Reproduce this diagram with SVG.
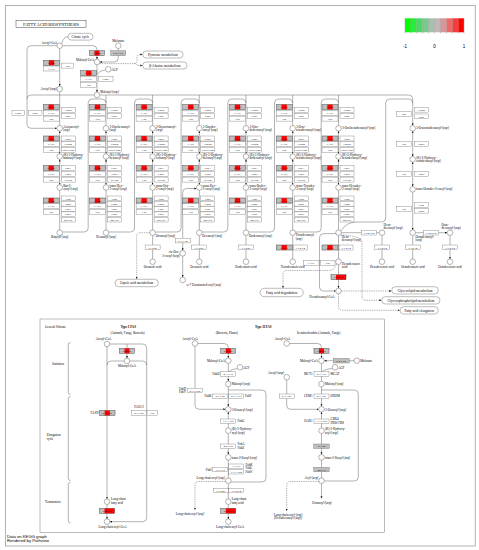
<svg xmlns="http://www.w3.org/2000/svg" width="479" height="550" viewBox="0 0 479 550">
<style>
.l{fill:none;stroke:#555;stroke-width:.45}
.d{fill:none;stroke:#555;stroke-width:.45;stroke-dasharray:1.4 .9}
.c{fill:#fff;stroke:#444;stroke-width:.4}
.bw{fill:#fff;stroke:#666;stroke-width:.35}
.bg{fill:#bebebe;stroke:#666;stroke-width:.35}
.br{fill:#ff0000}
.bo{fill:none;stroke:#666;stroke-width:.35}
.pl{fill:#fff;stroke:#555;stroke-width:.4}
text{font-family:"Liberation Serif","Times New Roman",serif;fill:#000}
.t{font-size:3.2px}
.b{font-size:2.9px;text-anchor:middle}
.m{text-anchor:middle}
.e{text-anchor:end}
.p{font-size:3.5px;text-anchor:middle}
.s{font-family:"Liberation Sans",Arial,sans-serif}
</style>
<defs>
<marker id="ar" viewBox="0 0 6 6" refX="6" refY="3" markerWidth="2.2" markerHeight="2.2" markerUnits="userSpaceOnUse" orient="auto-start-reverse"><path d="M0 .4L6 3L0 5.6z" fill="#111"/></marker>
<g id="tF"><rect class="bg" width="16" height="5"/><rect class="br" x="5.33" width="5.34" height="5"/><rect class="bo" width="16" height="5"/><text class="b" x="8" y="3.6">FASN</text></g>
<g id="t6412"><rect class="bg" width="15" height="5"/><rect class="br" x="5" width="5" height="5"/><rect class="bo" width="15" height="5"/><text class="b" x="7.5" y="3.6">6.4.1.2</text></g>
<g id="t6213"><rect class="bg" width="15" height="5"/><rect class="br" x="5" width="10" height="5"/><rect class="bo" width="15" height="5"/><text class="b" x="7.5" y="3.6">6.2.1.3</text></g>
<g id="ls"><use href="#tF"/><rect class="bw" y="5.8" width="16" height="5"/><text class="b" x="8" y="9.4">FAS1</text><rect class="bw" y="11.6" width="16" height="5"/><text class="b" x="8" y="15.2">Fas</text></g>
<g id="g1"><use href="#ls" x="-16.5"/><rect class="bw" x="1.5" y="3" width="14" height="5"/><text class="b" x="8.5" y="6.6">FabB</text><rect class="bw" x="1.5" y="8.8" width="14" height="5"/><text class="b" x="8.5" y="12.4">FabF</text></g>
<g id="g2"><use href="#ls" x="-16.5"/><rect class="bw" x="1.5" width="14" height="5"/><text class="b" x="8.5" y="3.6">FabG</text><rect class="bw" x="1.5" y="5.8" width="14" height="5"/><text class="b" x="8.5" y="9.4">CBR4</text><rect class="bw" x="1.5" y="11.6" width="14" height="5"/><text class="b" x="8.5" y="15.2">HSD17B8</text></g>
<g id="g3"><use href="#ls" x="-16.5"/><rect class="bw" x="1.5" width="14" height="5"/><text class="b" x="8.5" y="3.6">FabA</text><rect class="bw" x="1.5" y="5.8" width="14" height="5"/><text class="b" x="8.5" y="9.4">FabZ</text><rect class="bw" x="1.5" y="11.6" width="14" height="5"/><text class="b" x="8.5" y="15.2">HTD2</text></g>
<g id="g4"><use href="#ls" x="-16.5" y="2"/><rect class="bw" x="1.5" width="14" height="4.8"/><text class="b" x="8.5" y="3.5">FabI</text><rect class="bw" x="1.5" y="5.3" width="14" height="4.8"/><text class="b" x="8.5" y="8.8">FabK</text><rect class="bw" x="1.5" y="10.6" width="14" height="4.8"/><text class="b" x="8.5" y="14.1">FabL</text><rect class="bw" x="1.5" y="15.9" width="14" height="4.8"/><text class="b" x="8.5" y="19.4">FabV</text><rect class="bw" x="1.5" y="21.2" width="14" height="4.8"/><text class="b" x="8.5" y="24.7">MECR</text></g>
</defs>
<rect width="479" height="550" fill="#fff"/>
<rect x="5.5" y="5.5" width="469.8" height="540.5" fill="none" stroke="#aaa" stroke-width=".9"/>
<rect x="40" y="319" width="344.3" height="213.7" fill="none" stroke="#777" stroke-width=".5"/>

<g id="connectors">
<path class="l" d="M56.9 45.7H31Q27 45.7 27 49.7V124.3Q27 128.3 31 128.3H56.9" marker-end="url(#ar)"/>
<path class="l" d="M62.5 45.7H93Q97 45.7 97 49.7V59.2" marker-end="url(#ar)"/>
<path class="l" d="M61.6 43.6Q63.5 36.7 68 36.7"/>
<path class="l" d="M59.7 48.5V86.2" marker-end="url(#ar)"/>
<path class="l" d="M118.3 48.5V58Q118.3 62 114.3 62H99.8" marker-end="url(#ar)"/>
<path class="l" d="M97 64.8V92.2" marker-end="url(#ar)"/>
<path class="l" d="M105.5 70Q99 71 97.2 74.5"/>
<path class="d" d="M99.6 63.6H134Q137 63.6 137 60.5V57.5Q137 54.5 140 54.5H142.5" marker-end="url(#ar)"/>
<path class="d" d="M134 63.6Q137 63.6 137 65.5H142.5" marker-end="url(#ar)"/>
<path class="l" d="M94.2 95H31Q27 95 27 99"/>
<path class="l" d="M99.8 95H408.7Q412.7 95 412.7 99"/>
<path class="l" d="M59.7 91.8V125.5M106 95V125.5M152.6 95V125.5M199.3 95V125.5M246 95V125.5M292.7 95V125.5M338.5 95V125.5M412.7 99V125.5" marker-end="url(#ar)"/>
<path class="l" d="M59.7 131.1V153.7" marker-start="url(#ar)" marker-end="url(#ar)"/>
<path class="l" d="M106 131.1V153.7" marker-start="url(#ar)" marker-end="url(#ar)"/>
<path class="l" d="M152.6 131.1V153.7" marker-start="url(#ar)" marker-end="url(#ar)"/>
<path class="l" d="M199.3 131.1V153.7" marker-start="url(#ar)" marker-end="url(#ar)"/>
<path class="l" d="M246 131.1V153.7" marker-start="url(#ar)" marker-end="url(#ar)"/>
<path class="l" d="M292.7 131.1V153.7" marker-start="url(#ar)" marker-end="url(#ar)"/>
<path class="l" d="M338.5 131.1V153.7" marker-start="url(#ar)" marker-end="url(#ar)"/>
<path class="l" d="M412.7 131.1V156.5" marker-start="url(#ar)" marker-end="url(#ar)"/>
<path class="l" d="M59.7 159.3V184.7" marker-start="url(#ar)" marker-end="url(#ar)"/>
<path class="l" d="M106 159.3V184.7" marker-start="url(#ar)" marker-end="url(#ar)"/>
<path class="l" d="M152.6 159.3V184.7" marker-start="url(#ar)" marker-end="url(#ar)"/>
<path class="l" d="M199.3 159.3V184.7" marker-start="url(#ar)" marker-end="url(#ar)"/>
<path class="l" d="M246 159.3V184.7" marker-start="url(#ar)" marker-end="url(#ar)"/>
<path class="l" d="M292.7 159.3V184.7" marker-start="url(#ar)" marker-end="url(#ar)"/>
<path class="l" d="M338.5 159.3V184.7" marker-start="url(#ar)" marker-end="url(#ar)"/>
<path class="l" d="M412.7 162.1V186.5" marker-start="url(#ar)" marker-end="url(#ar)"/>
<path class="l" d="M59.7 190.3V229.9M106 190.3V229.9M152.6 190.3V229.9M199.3 190.3V229.9M246 190.3V229.9M292.7 190.3V229.9M338.5 190.3V229.9M412.7 192.1V229.9" marker-end="url(#ar)"/>
<path class="l" d="M62.5 232H84.2Q88.2 232 88.2 228V103Q88.2 99 92.2 99H102Q106 99 106 103"/>
<path class="l" d="M108.8 232H130.5Q134.5 232 134.5 228V103Q134.5 99 138.5 99H148.6Q152.6 99 152.6 103"/>
<path class="l" d="M155.4 232H177.1Q181.1 232 181.1 228V103Q181.1 99 185.1 99H195.3Q199.3 99 199.3 103"/>
<path class="l" d="M202.1 232H223.8Q227.8 232 227.8 228V103Q227.8 99 231.8 99H242Q246 99 246 103"/>
<path class="l" d="M248.8 232H270.5Q274.5 232 274.5 228V103Q274.5 99 278.5 99H288.7Q292.7 99 292.7 103"/>
<path class="l" d="M295.5 232H317.2Q321.2 232 321.2 228V103Q321.2 99 325.2 99H334.5Q338.5 99 338.5 103"/>
<path class="l" d="M341 231Q346 222 357 222H381.7Q385.7 222 385.7 218V103Q385.7 99 389.7 99H408.7Q412.7 99 412.7 103"/>
<path class="l" d="M152.6 235.5V258.9M199.3 235.5V258.9M246 235.5V258.9M292.7 235.5V258.9M338.5 235.5V258.9M382 235.5V258.9M412.7 235.5V258.9M450 235.5V258.9" marker-end="url(#ar)"/>
<path class="l" d="M341.3 232.7H379.2M415.5 232.7H447.2" marker-end="url(#ar)"/>
<path class="l" d="M196.5 188.5H186.7Q182.7 188.5 182.7 192.5V250.5" marker-start="url(#ar)" marker-end="url(#ar)"/>
<path class="l" d="M182.7 256.1V277.2" marker-end="url(#ar)"/>
<path class="l" d="M335.8 233.6H323.5Q319.5 233.6 319.5 237.6V287Q319.5 291 323.5 291H335.7" marker-end="url(#ar)"/>
<path class="l" d="M338.5 264.5V288.2" marker-end="url(#ar)"/>
<path class="d" d="M149.8 232.7H140.2Q136.7 232.7 136.7 236.2V279" marker-end="url(#ar)"/>
<path class="d" d="M336.5 264Q334 270.5 329 270.5H287Q283 270.5 283 274.5V288" marker-end="url(#ar)"/>
<path class="d" d="M341.3 291H391.4" marker-end="url(#ar)"/>
<path class="d" d="M338.5 293.8V306.3Q338.5 310.3 342.5 310.3H399.8" marker-end="url(#ar)"/>
<path class="d" d="M340.5 234.8Q362 236 362 242V296.3Q362 300.3 366 300.3H381.5" marker-end="url(#ar)"/>
<path class="l" d="M109.8 344H142.7Q146.7 344 146.7 348V517.7Q146.7 521.7 142.7 521.7H109.8" marker-end="url(#ar)"/>
<path class="l" d="M127 344V358.2" marker-end="url(#ar)"/>
<path class="l" d="M124.2 361H111Q107 361 107 365M129.8 361H142.7Q146.7 361 146.7 365"/>
<path class="l" d="M107 346.8V498.9" marker-end="url(#ar)"/>
<path class="l" d="M107 504.5V518.9" marker-end="url(#ar)"/>
<path class="l" d="M197.8 343.5H224.3Q228.3 343.5 228.3 347.5V357.9" marker-end="url(#ar)"/>
<path class="l" d="M195 346.3V405.3Q195 409.3 199 409.3H225.5" marker-end="url(#ar)"/>
<path class="l" d="M237.5 368.5Q231 369 228.5 372"/>
<path class="l" d="M228.3 363.5V381.2" marker-end="url(#ar)"/>
<path class="l" d="M228.3 386.8V406.5" marker-end="url(#ar)"/>
<path class="l" d="M230.8 482H262Q266 482 266 478V394Q266 390 262 390H228.3"/>
<path class="l" d="M228.3 412.1V427.9M228.3 433.5V454.5" marker-start="url(#ar)" marker-end="url(#ar)"/>
<path class="l" d="M228.3 460.1V477.9M228.3 483.5V498.9M228.3 504.5V518.9" marker-end="url(#ar)"/>
<path class="d" d="M225.5 481.5H199Q195 481.5 195 485.5V510" marker-end="url(#ar)"/>
<path class="l" d="M289.5 343.5H317.5Q321.5 343.5 321.5 347.5V357.9" marker-end="url(#ar)"/>
<path class="l" d="M354 360.7H324.3" marker-end="url(#ar)"/>
<path class="l" d="M332.5 368.5Q325 369 321.7 372"/>
<path class="l" d="M321.5 363.5V381.2M321.5 386.8V406.5" marker-end="url(#ar)"/>
<path class="l" d="M286.7 380.1V405.3Q286.7 409.3 290.7 409.3H318.7" marker-end="url(#ar)"/>
<path class="l" d="M321.5 412.1V427.9M321.5 433.5V454.5" marker-start="url(#ar)" marker-end="url(#ar)"/>
<path class="l" d="M321.5 460.1V477.9M321.5 483.5V498.5" marker-end="url(#ar)"/>
<path class="l" d="M324.3 481H354.3Q358.3 481 358.3 477V394Q358.3 390 354.3 390H321.5"/>
<path class="d" d="M318.7 481.5H290.7Q286.7 481.5 286.7 485.5V511" marker-end="url(#ar)"/>
</g>

<g id="nodes">
<g id="title"><rect x="16" y="20.7" width="70" height="6.6" fill="#fff" stroke="#333" stroke-width=".45"/><text x="51" y="25.6" class="m" font-size="4.3">FATTY ACID BIOSYNTHESIS</text></g>
<g id="legend">
<rect x="405" y="18.3" width="5.9" height="14" fill="#00ff00"/><rect x="410.9" y="18.3" width="5.9" height="14" fill="#26ec3b"/><rect x="416.8" y="18.3" width="5.9" height="14" fill="#4cd864"/><rect x="422.7" y="18.3" width="5.9" height="14" fill="#78cb8a"/><rect x="428.6" y="18.3" width="5.9" height="14" fill="#a6c2aa"/><rect x="434.5" y="18.3" width="5.9" height="14" fill="#c2b6b6"/><rect x="440.4" y="18.3" width="5.9" height="14" fill="#d89696"/><rect x="446.3" y="18.3" width="5.9" height="14" fill="#ee6a6a"/><rect x="452.2" y="18.3" width="5.9" height="14" fill="#f83a3a"/><rect x="458.1" y="18.3" width="5.9" height="14" fill="#ff0000"/>
<path d="M405 18.3V33.5M410.9 18.3V33.5M416.8 18.3V33.5M422.7 18.3V33.5M428.6 18.3V33.5M434.5 18.3V33.5M440.4 18.3V33.5M446.3 18.3V33.5M452.2 18.3V33.5M458.1 18.3V33.5M464 18.3V33.5" stroke="#999" stroke-width=".5"/>
<text class="s m" x="405" y="47.8" font-size="4.5">-1</text><text class="s m" x="434.5" y="47.8" font-size="4.5">0</text><text class="s m" x="464" y="47.8" font-size="4.5">1</text>
</g>

<g id="n_citrate"><rect class="pl" x="68" y="33.3" width="25" height="6.8" rx="3.4"/><text class="p" x="80.5" y="37.9">Citrate cycle</text></g>
<g id="n_pyruvate"><rect class="pl" x="142.7" y="51" width="40.3" height="7" rx="3.5"/><text class="p" x="162.8" y="55.7">Pyruvate metabolism</text></g>
<g id="n_balanine"><rect class="pl" x="142.7" y="62" width="44.3" height="7" rx="3.5"/><text class="p" x="164.8" y="66.7">β-Alanine metabolism</text></g>
<g id="n_acetylcoa"><circle class="c" cx="59.7" cy="45.7" r="2.8"/><text class="t e" x="57.2" y="43.8">Acetyl-CoA</text></g>
<g id="n_malonate"><circle class="c" cx="118.3" cy="45.7" r="2.8"/><text class="t m" x="118.3" y="41.8">Malonate</text></g>
<g id="n_malonylcoa"><circle class="c" cx="97" cy="62" r="2.8"/><text class="t e" x="94" y="60.8">Malonyl-CoA</text></g>
<g id="n_acp"><circle class="c" cx="108.3" cy="69.3" r="2.8"/><text class="t" x="111.5" y="70.5">ACP</text></g>
<g id="n_malonylacp"><circle class="c" cx="97" cy="95" r="2.8"/><text class="t" x="100.3" y="93.2">Malonyl-[acp]</text></g>
<g id="n_acetylacp"><circle class="c" cx="59.7" cy="89" r="2.8"/><text class="t e" x="56.7" y="89.8">Acetyl-[acp]</text></g>
<g id="e_6412"><use href="#t6412" x="89.5" y="50.7"/></g>
<g id="e_62176"><rect class="bg" x="110.8" y="50.7" width="15" height="5"/><text class="b" x="118.3" y="54.3">6.2.1.76</text></g>
<g id="e_acetyltrans"><use href="#tF" x="43.5" y="60.2"/><rect class="bw" x="43.5" y="66" width="16" height="5"/><text class="b" x="51.5" y="69.6">FAS1</text><rect class="bw" x="61.3" y="63.1" width="12.5" height="5"/><text class="b" x="67.55" y="66.7">Fas</text></g>
<g id="e_malonyltrans"><use href="#tF" x="80.7" y="70.7"/><rect class="bw" x="80.7" y="76.5" width="16" height="5"/><text class="b" x="88.7" y="80.1">FAS1</text><rect class="bw" x="80.7" y="82.3" width="16" height="5"/><text class="b" x="88.7" y="85.9">Fas</text><rect class="bw" x="98.5" y="76.5" width="14.5" height="5"/><text class="b" x="105.75" y="80.1">FabD</text></g>
<g id="e_fabh"><rect class="bw" x="12" y="110.7" width="12.5" height="4.8"/><text class="b" x="18.25" y="114.2">FabH</text><rect class="bw" x="28.5" y="110.7" width="13.5" height="4.8"/><text class="b" x="35.25" y="114.2">FabY</text></g>

<g id="col1"><use href="#g1" x="59.7" y="104.5"/><use href="#g2" x="59.7" y="136"/><use href="#g3" x="59.7" y="165.5"/><use href="#g4" x="59.7" y="196"/>
<g id="c1a"><circle class="c" cx="59.7" cy="128.3" r="2.8"/><text class="t" x="63.2" y="127.5">Acetoacetyl-<tspan x="63.2" dy="3.7">[acp]</tspan></text></g>
<g id="c1b"><circle class="c" cx="59.7" cy="156.5" r="2.8"/><text class="t" x="63.2" y="155.7">(R)-3-Hydroxy-<tspan x="63.2" dy="3.7">butanoyl-[acp]</tspan></text></g>
<g id="c1c"><circle class="c" cx="59.7" cy="187.5" r="2.8"/><text class="t" x="63.2" y="186.7">But-2-<tspan x="63.2" dy="3.7">enoyl-[acp]</tspan></text></g>
<g id="c1d"><circle class="c" cx="59.7" cy="232.7" r="2.8"/><text class="t m" x="59.7" y="238.3">Butyryl-[acp]</text></g></g>

<g id="col2"><use href="#g1" x="106" y="104.5"/><use href="#g2" x="106" y="136"/><use href="#g3" x="106" y="165.5"/><use href="#g4" x="106" y="196"/>
<g id="c2a"><circle class="c" cx="106" cy="128.3" r="2.8"/><text class="t" x="109.5" y="127.5">3-Oxohexanoyl-<tspan x="109.5" dy="3.7">[acp]</tspan></text></g>
<g id="c2b"><circle class="c" cx="106" cy="156.5" r="2.8"/><text class="t" x="109.5" y="155.7">(R)-3-Hydroxy-<tspan x="109.5" dy="3.7">hexanoyl-[acp]</tspan></text></g>
<g id="c2c"><circle class="c" cx="106" cy="187.5" r="2.8"/><text class="t" x="109.5" y="186.7">trans-Hex-<tspan x="109.5" dy="3.7">2-enoyl-[acp]</tspan></text></g>
<g id="c2d"><circle class="c" cx="106" cy="232.7" r="2.8"/><text class="t m" x="106" y="238.3">Hexanoyl-[acp]</text></g></g>

<g id="col3"><use href="#g1" x="152.6" y="104.5"/><use href="#g2" x="152.6" y="136"/><use href="#g3" x="152.6" y="165.5"/><use href="#g4" x="152.6" y="196"/>
<g id="c3a"><circle class="c" cx="152.6" cy="128.3" r="2.8"/><text class="t" x="156.1" y="127.5">3-Oxooctanoyl-<tspan x="156.1" dy="3.7">[acp]</tspan></text></g>
<g id="c3b"><circle class="c" cx="152.6" cy="156.5" r="2.8"/><text class="t" x="156.1" y="155.7">(R)-3-Hydroxy-<tspan x="156.1" dy="3.7">octanoyl-[acp]</tspan></text></g>
<g id="c3c"><circle class="c" cx="152.6" cy="187.5" r="2.8"/><text class="t" x="156.1" y="186.7">trans-Oct-<tspan x="156.1" dy="3.7">2-enoyl-[acp]</tspan></text></g>
<g id="c3d"><circle class="c" cx="152.6" cy="232.7" r="2.8"/><text class="t" x="155.8" y="237.3">Octanoyl-[acp]</text></g></g>

<g id="col4"><use href="#g1" x="199.3" y="104.5"/><use href="#g2" x="199.3" y="136"/><use href="#g3" x="199.3" y="165.5"/><use href="#g4" x="199.3" y="196"/>
<g id="c4a"><circle class="c" cx="199.3" cy="128.3" r="2.8"/><text class="t" x="202.8" y="127.5">3-Oxodec-<tspan x="202.8" dy="3.7">anoyl-[acp]</tspan></text></g>
<g id="c4b"><circle class="c" cx="199.3" cy="156.5" r="2.8"/><text class="t" x="202.8" y="155.7">(R)-3-Hydroxy-<tspan x="202.8" dy="3.7">decanoyl-[acp]</tspan></text></g>
<g id="c4c"><circle class="c" cx="199.3" cy="187.5" r="2.8"/><text class="t" x="202.8" y="186.7">trans-Dec-<tspan x="202.8" dy="3.7">2-enoyl-[acp]</tspan></text></g>
<g id="c4d"><circle class="c" cx="199.3" cy="232.7" r="2.8"/><text class="t" x="202.3" y="237.3">Decanoyl-[acp]</text></g></g>

<g id="col5"><use href="#g1" x="246" y="104.5"/><use href="#g2" x="246" y="136"/><use href="#g3" x="246" y="165.5"/><use href="#g4" x="246" y="196"/>
<g id="c5a"><circle class="c" cx="246" cy="128.3" r="2.8"/><text class="t" x="249.5" y="127.5">3-Oxo-<tspan x="249.5" dy="3.7">dodecanoyl-[acp]</tspan></text></g>
<g id="c5b"><circle class="c" cx="246" cy="156.5" r="2.8"/><text class="t" x="249.5" y="155.7">(R)-3-Hydroxy-<tspan x="249.5" dy="3.7">dodecanoyl-[acp]</tspan></text></g>
<g id="c5c"><circle class="c" cx="246" cy="187.5" r="2.8"/><text class="t" x="249.5" y="186.7">trans-Dodec-<tspan x="249.5" dy="3.7">2-enoyl-[acp]</tspan></text></g>
<g id="c5d"><circle class="c" cx="246" cy="232.7" r="2.8"/><text class="t" x="249" y="237.3">Dodecanoyl-[acp]</text></g></g>

<g id="col6"><use href="#g1" x="292.7" y="104.5"/><use href="#g2" x="292.7" y="136"/><use href="#g3" x="292.7" y="165.5"/><use href="#g4" x="292.7" y="196"/>
<g id="c6a"><circle class="c" cx="292.7" cy="128.3" r="2.8"/><text class="t" x="296.2" y="127.5">3-Oxo-<tspan x="296.2" dy="3.7">tetradecanoyl-[acp]</tspan></text></g>
<g id="c6b"><circle class="c" cx="292.7" cy="156.5" r="2.8"/><text class="t" x="296.2" y="155.7">(R)-3-Hydroxy-<tspan x="296.2" dy="3.7">tetradecanoyl-[acp]</tspan></text></g>
<g id="c6c"><circle class="c" cx="292.7" cy="187.5" r="2.8"/><text class="t" x="296.2" y="186.7">trans-Tetradec-<tspan x="296.2" dy="3.7">2-enoyl-[acp]</tspan></text></g>
<g id="c6d"><circle class="c" cx="292.7" cy="232.7" r="2.8"/><text class="t" x="295.7" y="236.2">Tetradecanoyl-<tspan x="295.7" dy="3.7">[acp]</tspan></text></g></g>

<g id="col7"><use href="#g1" x="338.5" y="104.5"/><use href="#g2" x="338.5" y="136"/><use href="#g3" x="338.5" y="165.5"/><use href="#g4" x="338.5" y="196"/>
<g id="c7a"><circle class="c" cx="338.5" cy="128.3" r="2.8"/><text class="t" x="342" y="129.4">3-Oxohexadecanoyl-[acp]</text></g>
<g id="c7b"><circle class="c" cx="338.5" cy="156.5" r="2.8"/><text class="t" x="342" y="155.7">(R)-3-Hydroxy-<tspan x="342" dy="3.7">hexadecanoyl-[acp]</tspan></text></g>
<g id="c7c"><circle class="c" cx="338.5" cy="187.5" r="2.8"/><text class="t" x="342" y="186.7">trans-Hexadec-<tspan x="342" dy="3.7">2-enoyl-[acp]</tspan></text></g>
<g id="c7d"><circle class="c" cx="338.5" cy="232.7" r="2.8"/><text class="t" x="341.8" y="237.6">Hexa-<tspan x="341.8" dy="3.7">decanoyl-[acp]</tspan></text></g></g>

<g id="col8">
<rect class="bw" x="396.7" y="111.7" width="14.5" height="4.8"/><text class="b" x="403.95" y="115.2">Fas</text>
<rect class="bw" x="414.2" y="107.3" width="14.5" height="4.8"/><text class="b" x="421.45" y="110.8">FabB</text>
<rect class="bw" x="414.2" y="114" width="14.5" height="4.8"/><text class="b" x="421.45" y="117.5">FabF</text>
<rect class="bw" x="396.7" y="141.7" width="14.5" height="4.8"/><text class="b" x="403.95" y="145.2">Fas</text>
<rect class="bw" x="414.2" y="141.7" width="14.5" height="4.8"/><text class="b" x="421.45" y="145.2">FabG</text>
<rect class="bw" x="396.7" y="171.7" width="14.5" height="4.8"/><text class="b" x="403.95" y="175.2">Fas</text>
<rect class="bw" x="414.2" y="171.7" width="14.5" height="4.8"/><text class="b" x="421.45" y="175.2">FabZ</text>
<rect class="bw" x="396.7" y="206.7" width="14.5" height="4.8"/><text class="b" x="403.95" y="210.2">Fas</text>
<rect class="bw" x="414.2" y="202.7" width="14.5" height="4.8"/><text class="b" x="421.45" y="206.2">FabI</text>
<rect class="bw" x="414.2" y="208.3" width="14.5" height="4.8"/><text class="b" x="421.45" y="211.8">FabK</text>
<g id="c8a"><circle class="c" cx="412.7" cy="128.3" r="2.8"/><text class="t" x="416.2" y="129.4">3-Oxooctadecanoyl-[acp]</text></g>
<g id="c8b"><circle class="c" cx="412.7" cy="159.3" r="2.8"/><text class="t" x="416.2" y="158.5">(R)-3-Hydroxy-<tspan x="416.2" dy="3.7">octadecanoyl-[acp]</tspan></text></g>
<g id="c8c"><circle class="c" cx="412.7" cy="189.3" r="2.8"/><text class="t" x="416.2" y="190.4">trans-Octadec-2-enoyl-[acp]</text></g>
<g id="c8d"><circle class="c" cx="412.7" cy="232.7" r="2.8"/><text class="t" x="415.5" y="237.6">Octadecanoyl-<tspan x="415.5" dy="3.7">[acp]</tspan></text></g></g>

<g id="thioesterases">
<rect class="bw" x="145.1" y="245" width="15" height="4.8"/><text class="b" x="152.6" y="248.5">3.1.2.21</text>
<rect class="bw" x="191.8" y="245" width="15" height="4.8"/><text class="b" x="199.3" y="248.5">3.1.2.21</text>
<rect class="bw" x="238.5" y="245" width="15" height="4.8"/><text class="b" x="246" y="248.5">3.1.2.21</text>
<use href="#tF" x="276.2" y="245"/><rect class="bw" x="293.2" y="245" width="14" height="5"/><text class="b" x="300.2" y="248.6">3.1.2.14</text>
<use href="#tF" x="322" y="245"/><rect class="bw" x="339" y="245" width="14" height="5"/><text class="b" x="346" y="248.6">3.1.2.14</text>
<rect class="bw" x="374.5" y="245" width="15" height="4.8"/><text class="b" x="382" y="248.5">3.1.2.14</text>
<rect class="bw" x="405.2" y="245" width="15" height="4.8"/><text class="b" x="412.7" y="248.5">3.1.2.14</text>
<rect class="bw" x="442.5" y="245" width="15" height="4.8"/><text class="b" x="450" y="248.5">3.1.2.14</text>
<rect class="bw" x="361.5" y="230.4" width="15" height="4.6"/><text class="b" x="369" y="233.8">1.14.19.2</text>
<rect class="bw" x="423.5" y="230.4" width="15" height="4.6"/><text class="b" x="431" y="233.8">1.14.19.2</text>
<rect class="bw" x="175.2" y="238.3" width="15" height="4.6"/><text class="b" x="182.7" y="241.7">5.3.3.14</text>
<rect class="bw" x="303.3" y="260.7" width="15.7" height="4.6"/><text class="b" x="311.15" y="264.1">FAS1</text>
<rect class="bw" x="320.5" y="260.7" width="14.5" height="4.6"/><text class="b" x="327.75" y="264.1">Fas</text>
<use href="#t6213" x="331" y="274.8"/>
</g>
<g id="acids">
<g id="n_octacid"><circle class="c" cx="152.6" cy="261.7" r="2.8"/><text class="t m" x="152.6" y="267.7">Octanoic acid</text></g>
<g id="n_decacid"><circle class="c" cx="199.3" cy="261.7" r="2.8"/><text class="t m" x="199.3" y="267.7">Decanoic acid</text></g>
<g id="n_dodacid"><circle class="c" cx="246" cy="261.7" r="2.8"/><text class="t m" x="246" y="267.7">Dodecanoic acid</text></g>
<g id="n_tetacid"><circle class="c" cx="292.7" cy="261.7" r="2.8"/><text class="t m" x="292.7" y="267.7">Tetradecanoic acid</text></g>
<g id="n_hexacid"><circle class="c" cx="338.5" cy="261.7" r="2.8"/><text class="t" x="342" y="264.5">Hexadecanoic<tspan x="342" dy="3.7">acid</tspan></text></g>
<g id="n_hexenacp"><circle class="c" cx="382" cy="232.7" r="2.8"/><text class="t" x="383.5" y="225.6">Hexa-<tspan x="383.5" dy="3.6">decenoyl-[acp]</tspan></text></g>
<g id="n_octenacp"><circle class="c" cx="450" cy="232.7" r="2.8"/><text class="t" x="441.5" y="225.6">Octa-<tspan x="441.5" dy="3.6">decenoyl-[acp]</tspan></text></g>
<g id="n_hexenacid"><circle class="c" cx="382" cy="261.7" r="2.8"/><text class="t m" x="382" y="267.7">Hexadecenoic acid</text></g>
<g id="n_octadacid"><circle class="c" cx="412.7" cy="261.7" r="2.8"/><text class="t m" x="413" y="267.7">Octadecanoic acid</text></g>
<g id="n_octenacid"><circle class="c" cx="450" cy="261.7" r="2.8"/><text class="t m" x="450" y="267.7">Octadecenoic acid</text></g>
<g id="n_cisdec"><circle class="c" cx="182.7" cy="253.3" r="2.8"/><text class="t e" x="179.6" y="253">cis-Dec-<tspan x="179.6" dy="3.7">3-enoyl-[acp]</tspan></text></g>
<g id="n_w7"><circle class="c" cx="182.7" cy="280" r="2.8"/><text class="t" x="186.5" y="286.3">ω-7 Unsaturated acyl-[acp]</text></g>
<g id="n_hexcoa"><circle class="c" cx="338.5" cy="291" r="2.8"/><text class="t m" x="322" y="297.6">Hexadecanoyl-CoA</text></g>
</g>
<g id="maps">
<g id="m_lipoic"><rect class="pl" x="115" y="279.3" width="43.3" height="7.4" rx="3.7"/><text class="p" x="136.7" y="284.2">Lipoic acid metabolism</text></g>
<g id="m_degr"><rect class="pl" x="260" y="288.3" width="43.3" height="8.4" rx="4.2"/><text class="p" x="281.7" y="293.7">Fatty acid degradation</text></g>
<g id="m_glyc"><rect class="pl" x="391.7" y="286.7" width="46.6" height="7.3" rx="3.65"/><text class="p" x="415" y="291.5">Glycerolipid metabolism</text></g>
<g id="m_glycp"><rect class="pl" x="381.7" y="296.7" width="58.3" height="7.3" rx="3.65"/><text class="p" x="410.8" y="301.5">Glycerophospholipid metabolism</text></g>
<g id="m_elong"><rect class="pl" x="400" y="306.7" width="38.3" height="7.3" rx="3.65"/><text class="p" x="419.2" y="311.5">Fatty acid elongation</text></g>
</g>

<g id="scheme">
<text class="t" x="45" y="327.8">General Scheme</text>
<text class="t m" x="128.3" y="327.8" font-weight="bold">Type I FAS</text>
<text class="t m" x="127.5" y="333.8">(Animals, Fungi, Bacteria)</text>
<text class="t m" x="263.3" y="327.8" font-weight="bold">Type II FAS</text>
<text class="t m" x="226.7" y="333.8">(Bacteria, Plants)</text>
<text class="t" x="297" y="333.8" font-size="3.5">In mitochondria (Animals, Fungi)</text>
<path class="l" d="M70.5 342.5Q68.3 342.5 68.3 344.5V392.5Q68.3 394.5 70.5 394.5M70.5 396.5Q68.3 396.5 68.3 398.5V478.5Q68.3 480.5 70.5 480.5M70.5 482.5Q68.3 482.5 68.3 484.5V521Q68.3 523 70.5 523"/>
<text class="t e" x="64" y="365">Initiation</text>
<text class="t" x="46.7" y="436">Elongation<tspan x="46.7" dy="3.7">cycle</tspan></text>
<text class="t" x="45" y="502.5">Termination</text>
</g>

<g id="typeI">
<g id="t1_acetyl"><circle class="c" cx="107" cy="344" r="2.8"/><text class="t m" x="103.5" y="339.8">Acetyl-CoA</text></g>
<use href="#t6412" x="119.5" y="348.3"/>
<g id="t1_malonyl"><circle class="c" cx="127" cy="361" r="2.8"/><text class="t m" x="127" y="367.3">Malonyl-CoA</text></g>
<text class="t e" x="98.5" y="413.7">FASN</text>
<g id="t1_fasn"><rect class="bg" x="99.5" y="410.5" width="15.5" height="5"/><rect class="br" x="104.67" y="410.5" width="5.16" height="5"/><rect class="bo" x="99.5" y="410.5" width="15.5" height="5"/><text class="b" x="107.25" y="414.1">2.3.1.85</text></g>
<text class="t m" x="139" y="407.8">FAS1/2</text>
<rect class="bw" x="131.5" y="410.5" width="15" height="5"/><text class="b" x="139" y="414.1">2.3.1.86</text>
<rect class="bw" x="147" y="410.5" width="10.5" height="5"/><text class="b" x="152.25" y="414.1">Fas</text>
<g id="t1_lcfa"><circle class="c" cx="107" cy="501.7" r="2.8"/><text class="t" x="111" y="500.4">Long-chain<tspan x="111" dy="3.7">fatty acid</tspan></text></g>
<use href="#t6213" x="99.5" y="508.3"/>
<g id="t1_lccoa"><circle class="c" cx="107" cy="521.7" r="2.8"/><text class="t m" x="112.5" y="527.6">Long-chain acyl-CoA</text></g>
</g>

<g id="typeII">
<g id="t2_acetyl"><circle class="c" cx="195" cy="343.5" r="2.8"/><text class="t m" x="190" y="339.8">Acetyl-CoA</text></g>
<use href="#t6412" x="220.8" y="348.3"/>
<g id="t2_malonyl"><circle class="c" cx="228.3" cy="360.7" r="2.8"/><text class="t e" x="225" y="361.8">Malonyl-CoA</text></g>
<g id="t2_acp"><circle class="c" cx="240" cy="367.3" r="2.8"/><text class="t" x="243" y="368.5">ACP</text></g>
<text class="t e" x="219.5" y="375">FabD</text><rect class="bw" x="220.8" y="371.7" width="15" height="4.5"/><text class="b" x="228.3" y="375">2.3.1.39</text>
<g id="t2_malacp"><circle class="c" cx="228.3" cy="384" r="2.8"/><text class="t" x="231.7" y="385.2">Malonyl-[acp]</text></g>
<text class="t e" x="186" y="389.6">FabH<tspan x="186" dy="3.7">FabY</tspan></text><rect class="bw" x="187.5" y="388.3" width="15" height="4.5"/><text class="b" x="195" y="391.6">2.3.1.180</text>
<text class="t e" x="211.5" y="397.4">FabB</text><rect class="bw" x="212.7" y="394" width="15" height="4.5"/><text class="b" x="220.2" y="397.3">2.3.1.41</text>
<rect class="bw" x="228.8" y="394" width="15" height="4.5"/><text class="b" x="236.3" y="397.3">2.3.1.179</text><text class="t" x="245" y="397.4">FabF</text>
<g id="t2_oxo"><circle class="c" cx="228.3" cy="409.3" r="2.8"/><text class="t" x="231.7" y="410.5">3-Oxoacyl-[acp]</text></g>
<rect class="bw" x="220.8" y="419" width="15" height="4.5"/><text class="b" x="228.3" y="422.3">1.1.1.100</text><text class="t" x="237.5" y="422.4">FabG</text>
<g id="t2_hyd"><circle class="c" cx="228.3" cy="430.7" r="2.8"/><text class="t" x="231.7" y="430">(R)-3-Hydroxy-<tspan x="231.7" dy="3.7">acyl-[acp]</tspan></text></g>
<rect class="bw" x="220.8" y="444" width="15" height="4.5"/><text class="b" x="228.3" y="447.3">4.2.1.59</text><text class="t" x="237.5" y="445.3">FabA<tspan x="237.5" dy="3.7">FabZ</tspan></text>
<g id="t2_enoyl"><circle class="c" cx="228.3" cy="457.3" r="2.8"/><text class="t" x="231.7" y="458.5">trans-2-Enoyl-[acp]</text></g>
<text class="t e" x="211.5" y="470.6">FabI</text><rect class="bw" x="212.8" y="467.3" width="15" height="4.5"/><text class="b" x="220.3" y="470.6">1.3.1.10</text>
<rect class="bw" x="228.8" y="464" width="15" height="4.5"/><text class="b" x="236.3" y="467.3">1.3.1.9</text>
<rect class="bw" x="228.8" y="469.5" width="15" height="4.5"/><text class="b" x="236.3" y="472.8">1.3.1.104</text>
<text class="t" x="245.5" y="465.6">FabK<tspan x="245.5" dy="3.8">FabL</tspan><tspan x="245.5" dy="3.8">FabV</tspan></text>
<g id="t2_lcacp"><circle class="c" cx="228.3" cy="480.7" r="2.8"/><text class="t e" x="225" y="478.6">Long-chain acyl-[acp]</text></g>
<text class="t m" x="190" y="515.2">Long-chain acyl-[acp]</text>
<rect class="bw" x="213.3" y="488.3" width="15" height="4.5"/><text class="b" x="220.8" y="491.6">3.1.2.21</text>
<rect class="bw" x="228.8" y="488.3" width="15" height="4.5"/><text class="b" x="236.3" y="491.6">3.1.2.14</text>
<g id="t2_lcfa"><circle class="c" cx="228.3" cy="501.7" r="2.8"/><text class="t" x="231.7" y="500.4">Long-chain<tspan x="231.7" dy="3.7">fatty acid</tspan></text></g>
<use href="#t6213" x="220.8" y="508.3"/>
<g id="t2_lccoa"><circle class="c" cx="228.3" cy="521.7" r="2.8"/><text class="t m" x="230" y="527.6">Long-chain acyl-CoA</text></g>
</g>

<g id="mito">
<g id="mt_acetyl"><circle class="c" cx="286.7" cy="343.5" r="2.8"/><text class="t m" x="282.5" y="339.8">Acetyl-CoA</text></g>
<use href="#t6412" x="314" y="348.3"/>
<g id="mt_malonyl"><circle class="c" cx="321.5" cy="360.7" r="2.8"/><text class="t e" x="317.8" y="361.9">Malonyl-CoA</text></g>
<rect class="bg" x="333.3" y="358.4" width="16" height="4.6"/><text class="b" x="341.3" y="361.8">6.2.1.76</text>
<g id="mt_malonate"><circle class="c" cx="356.8" cy="360.7" r="2.8"/><text class="t" x="360.2" y="361.9">Malonate</text></g>
<g id="mt_acp"><circle class="c" cx="335" cy="367.3" r="2.8"/><text class="t" x="338.2" y="368.5">ACP</text></g>
<text class="t e" x="312.5" y="375">MCT1</text><rect class="bw" x="314" y="371.7" width="15" height="4.5"/><text class="b" x="321.5" y="375">2.3.1.39</text><text class="t" x="330.5" y="375">MCAT</text>
<g id="mt_acetylacp"><circle class="c" cx="286.7" cy="377.3" r="2.8"/><text class="t e" x="284" y="374.2">Acetyl-[acp]</text></g>
<g id="mt_malacp"><circle class="c" cx="321.5" cy="384" r="2.8"/><text class="t" x="325" y="385.4">Malonyl-[acp]</text></g>
<rect class="bw" x="279.2" y="394" width="15" height="4.5"/><text class="b" x="286.7" y="397.3">2.3.1.41</text>
<text class="t e" x="312.5" y="397.4">CEM1</text><rect class="bw" x="314" y="394" width="15" height="4.5"/><text class="b" x="321.5" y="397.3">2.3.1.41</text><text class="t" x="330.5" y="397.4">OXSM</text>
<g id="mt_oxo"><circle class="c" cx="321.5" cy="409.3" r="2.8"/><text class="t" x="325" y="410.5">3-Oxoacyl-[acp]</text></g>
<text class="t e" x="312.5" y="422.4">OAR1</text><rect class="bw" x="314" y="419" width="15" height="4.5"/><text class="b" x="321.5" y="422.3">1.1.1.100</text><text class="t" x="330.5" y="419.8">CBR4<tspan x="330.5" dy="3.7">HSD17B8</tspan></text>
<g id="mt_hyd"><circle class="c" cx="321.5" cy="430.7" r="2.8"/><text class="t" x="325" y="430">(R)-3-Hydroxy-<tspan x="325" dy="3.7">acyl-[acp]</tspan></text></g>
<rect class="bg" x="313.7" y="444" width="15.6" height="4.5"/><text class="b" x="321.5" y="447.3">HTD2</text>
<g id="mt_enoyl"><circle class="c" cx="321.5" cy="457.3" r="2.8"/><text class="t" x="325" y="458.5">trans-2-Enoyl-[acp]</text></g>
<rect class="bg" x="313.7" y="467.3" width="15.6" height="4.5"/><text class="b" x="321.5" y="470.6">MECR</text>
<g id="mt_acyl"><circle class="c" cx="321.5" cy="480.7" r="2.8"/><text class="t e" x="318.3" y="478.6">Acyl-[acp]</text></g>
<text class="t m" x="322" y="504.2">Octanoyl-[acp]</text>
<text class="t m" x="288" y="515.6">Long-chain acyl-[acp]<tspan x="288" dy="3.7">(Hexadecanoyl-[acp])</tspan></text>
</g>

<g id="footer"><text class="s" x="7" y="537.6" font-size="4.2">Data on KEGG graph</text><text class="s" x="7" y="542.2" font-size="4.2">Rendered by Pathview</text></g>
</g>
</svg>
